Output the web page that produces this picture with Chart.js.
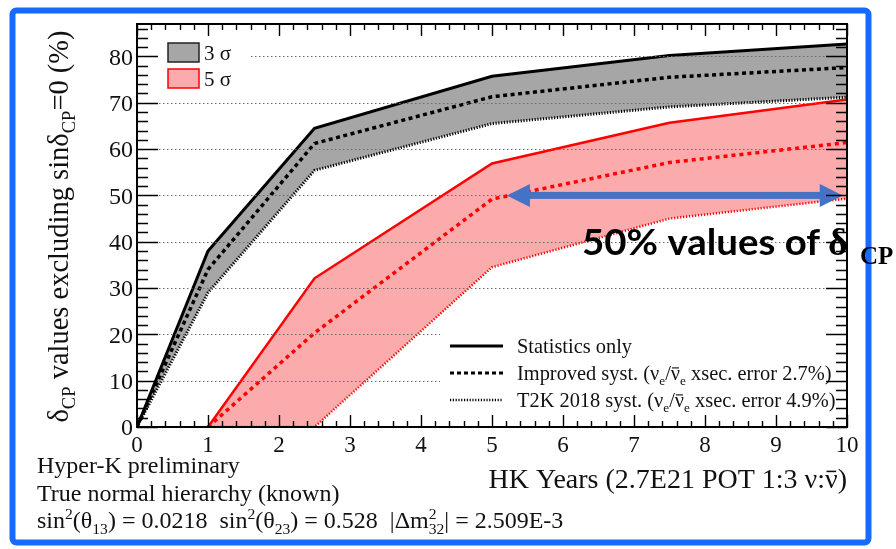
<!DOCTYPE html>
<html>
<head>
<meta charset="utf-8">
<script src="https://cdn.jsdelivr.net/npm/chart.js@4.4.1/dist/chart.umd.min.js"></script>
<style>
  html, body { margin: 0; padding: 0; background: #fff; }
  canvas { display: block; }
</style>
</head>
<body>
<canvas id="c" width="896" height="549"></canvas>
<script>
// Exposure in HK years and the fraction of delta_CP values excluded (%)
const years3 = [0, 1, 2.5, 5, 7.5, 10];
const stat3  = [0, 38.0, 64.5, 75.7, 80.2, 82.7];   // 3 sigma, statistics only
const impr3  = [0, 34.0, 61.2, 71.3, 75.5, 77.6];   // 3 sigma, improved syst.
const t2k3   = [0, 29.0, 55.4, 65.5, 69.1, 71.2];   // 3 sigma, T2K 2018 syst.

const years5 = [1, 2.5, 5, 7.5, 10];
const stat5  = [0, 32.1, 56.9, 65.7, 70.7];         // 5 sigma, statistics only
const impr5  = [0, 20.3, 49.2, 57.1, 61.4];         // 5 sigma, improved syst.
const t2k5   = [0, 0, 34.5, 45.0, 49.3];            // 5 sigma, T2K 2018 syst.

const xTickValues = [0, 1, 2, 3, 4, 5, 6, 7, 8, 9, 10];
const yTickValues = [0, 10, 20, 30, 40, 50, 60, 70, 80];

// Double arrow marking half of the delta_CP range
const arrowLevel = 50;
const arrowSpan = [5.21, 9.94];

const SERIF = '"Liberation Serif", "Times New Roman", serif';
const GRAY_FILL = '#a6a6a6';
const PINK_FILL = '#fbabab';
const RED = '#ff0000';

Chart.defaults.font.family = SERIF;

function pts(xs, ys) { return xs.map((x, i) => ({ x: x, y: ys[i] })); }

function line(label, xs, ys, color, width, dash, fill, bg) {
  return {
    label: label, data: pts(xs, ys), borderColor: color, borderWidth: width,
    borderDash: dash, borderCapStyle: 'butt', borderJoinStyle: 'miter',
    pointRadius: 0, tension: 0, fill: fill, backgroundColor: bg || 'transparent'
  };
}

// Draws a run of text pieces with sub/superscripts; returns the width.
function drawRich(ctx, parts, x, y, size, weight, measureOnly) {
  let cx = x;
  const small = size * 0.65;
  ctx.textAlign = 'left';
  ctx.textBaseline = 'alphabetic';
  for (const p of parts) {
    if (p.stack) {
      ctx.font = weight + ' ' + small + 'px ' + SERIF;
      const w1 = ctx.measureText(p.sup).width, w2 = ctx.measureText(p.sub).width;
      if (!measureOnly) {
        ctx.fillText(p.sup, cx, y - size * 0.36);
        ctx.fillText(p.sub, cx, y + size * 0.24);
      }
      cx += Math.max(w1, w2);
      continue;
    }
    const sz = (p.sub || p.sup) ? small : size;
    ctx.font = weight + ' ' + sz + 'px ' + SERIF;
    const w = ctx.measureText(p.t).width;
    const dy = p.sub ? size * 0.24 : (p.sup ? -size * 0.36 : 0);
    if (!measureOnly) {
      ctx.fillText(p.t, cx, y + dy);
      if (p.bar) ctx.fillRect(cx + w * 0.12, y + dy - sz * 0.62, w * 0.76, Math.max(1, sz * 0.055));
    }
    cx += w;
  }
  return cx - x;
}

const frameAndDecor = {
  id: 'frameAndDecor',
  afterDatasetsDraw(chart) {
    const ctx = chart.ctx, a = chart.chartArea;
    const xs = chart.scales.x, ys = chart.scales.y;
    ctx.save();

    // dotted horizontal grid
    ctx.strokeStyle = '#6a6a6a';
    ctx.lineWidth = 1;
    ctx.setLineDash([1.5, 2.5]);
    for (const v of yTickValues) {
      if (v === 0) continue;
      const py = Math.round(ys.getPixelForValue(v)) + 0.5;
      ctx.beginPath();
      ctx.moveTo(a.left + 22, py);
      ctx.lineTo(a.right - 20, py);
      ctx.stroke();
    }
    ctx.setLineDash([]);

    // double arrow at the 50% level
    const ay = ys.getPixelForValue(arrowLevel);
    const ax1 = xs.getPixelForValue(arrowSpan[0]);
    const ax2 = xs.getPixelForValue(arrowSpan[1]);
    const headL = 23, headH = 11.5;
    ctx.fillStyle = '#4472c4';
    ctx.fillRect(ax1 + headL - 2, ay - 3.5, (ax2 - ax1) - 2 * headL + 4, 7);
    ctx.beginPath();
    ctx.moveTo(ax1, ay); ctx.lineTo(ax1 + headL, ay - headH); ctx.lineTo(ax1 + headL, ay + headH);
    ctx.closePath(); ctx.fill();
    ctx.beginPath();
    ctx.moveTo(ax2, ay); ctx.lineTo(ax2 - headL, ay - headH); ctx.lineTo(ax2 - headL, ay + headH);
    ctx.closePath(); ctx.fill();

    // sigma legend (top left)
    ctx.fillStyle = '#fff';
    ctx.fillRect(a.left + 2, 35, 112, 60);
    ctx.fillStyle = GRAY_FILL;
    ctx.fillRect(168, 43, 31, 19);
    ctx.strokeStyle = '#222'; ctx.lineWidth = 1.5;
    ctx.strokeRect(168, 43, 31, 19);
    ctx.fillStyle = PINK_FILL;
    ctx.fillRect(168, 69, 31, 19);
    ctx.strokeStyle = RED;
    ctx.strokeRect(168, 69, 31, 19);
    ctx.fillStyle = '#111';
    ctx.font = '21px ' + SERIF;
    ctx.textBaseline = 'alphabetic';
    ctx.textAlign = 'left';
    ctx.fillText('3 \u03C3', 204, 60);
    ctx.fillText('5 \u03C3', 204, 86);

    // line-style legend (bottom right)
    ctx.fillStyle = '#fff';
    ctx.fillRect(440, 326, 388, 88);
    const rows = [
      { y: 346, dash: [], w: 3, parts: [{ t: 'Statistics only' }] },
      { y: 373, dash: [4, 3], w: 3, parts: [{ t: 'Improved syst. (\u03BD' }, { t: 'e', sub: true }, { t: '/' }, { t: '\u03BD', bar: true }, { t: 'e', sub: true }, { t: ' xsec. error 2.7%)' }] },
      { y: 400, dash: [1.2, 1.6], w: 2.5, parts: [{ t: 'T2K 2018 syst. (\u03BD' }, { t: 'e', sub: true }, { t: '/' }, { t: '\u03BD', bar: true }, { t: 'e', sub: true }, { t: ' xsec. error 4.9%)' }] }
    ];
    for (const r of rows) {
      ctx.strokeStyle = '#000';
      ctx.lineWidth = r.w;
      ctx.setLineDash(r.dash);
      ctx.beginPath();
      ctx.moveTo(450, r.y); ctx.lineTo(503, r.y);
      ctx.stroke();
      ctx.setLineDash([]);
      ctx.fillStyle = '#111';
      drawRich(ctx, r.parts, 517, r.y + 7, 20.4, '', false);
    }

    // frame
    ctx.strokeStyle = '#000';
    ctx.lineWidth = 2;
    ctx.strokeRect(a.left, a.top, a.right - a.left, a.bottom - a.top);

    // ticks on all four sides
    ctx.lineWidth = 1.4;
    ctx.beginPath();
    for (let i = 0; i <= 50; i++) {
      const px = Math.round(xs.getPixelForValue(i * 0.2)) + 0.5;
      const len = (i % 5 === 0) ? 12 : 6;
      ctx.moveTo(px, a.bottom); ctx.lineTo(px, a.bottom - len);
      ctx.moveTo(px, a.top); ctx.lineTo(px, a.top + len);
    }
    for (let j = 0; j <= 43; j++) {
      const py = Math.round(ys.getPixelForValue(j * 2)) + 0.5;
      const len = (j % 5 === 0) ? 21 : 11;
      ctx.moveTo(a.left, py); ctx.lineTo(a.left + len, py);
      ctx.moveTo(a.right, py); ctx.lineTo(a.right - len, py);
    }
    ctx.stroke();

    // tick labels from the scales' own ticks
    ctx.fillStyle = '#111';
    ctx.textBaseline = 'alphabetic';
    ctx.font = '23px ' + SERIF;
    ctx.textAlign = 'center';
    for (const t of xs.ticks) {
      ctx.fillText(String(t.value), xs.getPixelForValue(t.value), a.bottom + 25);
    }
    ctx.font = '24px ' + SERIF;
    ctx.textAlign = 'right';
    for (const t of ys.ticks) {
      ctx.fillText(String(t.value), a.left - 4, ys.getPixelForValue(t.value) + 8.3);
    }
    ctx.restore();
  },
  afterDraw(chart) {
    const ctx = chart.ctx, a = chart.chartArea;
    ctx.save();
    ctx.fillStyle = '#111';

    // y-axis title
    const yParts = [{ t: '\u03B4' }, { t: 'CP', sub: true }, { t: ' values excluding sin\u03B4' }, { t: 'CP', sub: true }, { t: '=0 (%)' }];
    const ySize = 28.5;
    const yw = drawRich(ctx, yParts, 0, 0, ySize, '', true);
    ctx.save();
    ctx.translate(68, 226.5);
    ctx.rotate(-Math.PI / 2);
    drawRich(ctx, yParts, -yw / 2, 0, ySize, '', false);
    ctx.restore();

    // x-axis title, right aligned to the frame
    const xParts = [{ t: 'HK Years (2.7E21 POT 1:3 \u03BD:' }, { t: '\u03BD', bar: true }, { t: ')' }];
    const xw = drawRich(ctx, xParts, 0, 0, 28, '', true);
    drawRich(ctx, xParts, a.right - xw, 488, 28, '', false);

    // caption lines
    ctx.font = '24px ' + SERIF;
    ctx.textAlign = 'left';
    ctx.fillText('Hyper-K preliminary', 37, 473);
    ctx.fillText('True normal hierarchy (known)', 37, 501);
    drawRich(ctx, [
      { t: 'sin' }, { t: '2', sup: true }, { t: '(\u03B8' }, { t: '13', sub: true },
      { t: ') = 0.0218  sin' }, { t: '2', sup: true }, { t: '(\u03B8' }, { t: '23', sub: true },
      { t: ') = 0.528  |\u0394m' }, { stack: true, sup: '2', sub: '32' }, { t: '| = 2.509E-3' }
    ], 37, 528, 24, '', false);

    // blue outline
    ctx.strokeStyle = '#166bff';
    ctx.lineWidth = 6;
    ctx.beginPath();
    ctx.roundRect(12.5, 10.5, 856, 532, 4);
    ctx.stroke();

    // annotation
    ctx.fillStyle = '#000';
    ctx.textBaseline = 'alphabetic';
    ctx.textAlign = 'left';
    ctx.font = 'bold 37px Lato, "Open Sans", sans-serif';
    const main = '50% values of';
    const mw = ctx.measureText(main).width;
    const target = 238;
    ctx.save();
    ctx.translate(582, 255);
    ctx.scale(target / mw, 1);
    ctx.fillText(main, 0, 0);
    ctx.restore();
    ctx.font = 'bold 38px ' + SERIF;
    ctx.fillText('\u03B4', 828, 255);
    ctx.font = 'bold 25px ' + SERIF;
    ctx.fillText('CP', 860, 264);
    ctx.restore();
  }
};

const datasets = [
  line('3\u03C3 statistics only', years3, stat3, '#000', 3, [], { target: 2 }, GRAY_FILL),
  line('3\u03C3 improved syst.', years3, impr3, '#000', 3.5, [4, 3.5], false),
  line('3\u03C3 T2K 2018 syst.', years3, t2k3, '#000', 3, [1.2, 1.6], false),
  line('5\u03C3 statistics only', years5, stat5, RED, 2.5, [], { target: 5 }, PINK_FILL),
  line('5\u03C3 improved syst.', years5, impr5, RED, 3.5, [4, 4], false),
  line('5\u03C3 T2K 2018 syst.', years5, t2k5, RED, 2.5, [1.2, 1.8], false)
];

new Chart(document.getElementById('c'), {
  type: 'line',
  data: { datasets: datasets },
  options: {
    responsive: false,
    animation: false,
    devicePixelRatio: 1,
    layout: { padding: { left: 0, right: 49, top: 24, bottom: 0 } },
    plugins: {
      legend: { display: false },
      tooltip: { enabled: false },
      filler: { drawTime: 'beforeDatasetsDraw', propagate: false }
    },
    scales: {
      x: {
        type: 'linear', min: 0, max: 10,
        grid: { display: false }, border: { display: false },
        afterBuildTicks: s => { s.ticks = xTickValues.map(v => ({ value: v })); },
        ticks: { display: false },
        afterFit: s => { s.height = 122; }
      },
      y: {
        type: 'linear', min: 0, max: 87,
        grid: { display: false }, border: { display: false },
        afterBuildTicks: s => { s.ticks = yTickValues.map(v => ({ value: v })); },
        ticks: { display: false },
        afterFit: s => { s.width = 137; }
      }
    }
  },
  plugins: [frameAndDecor]
});
</script>
</body>
</html>
